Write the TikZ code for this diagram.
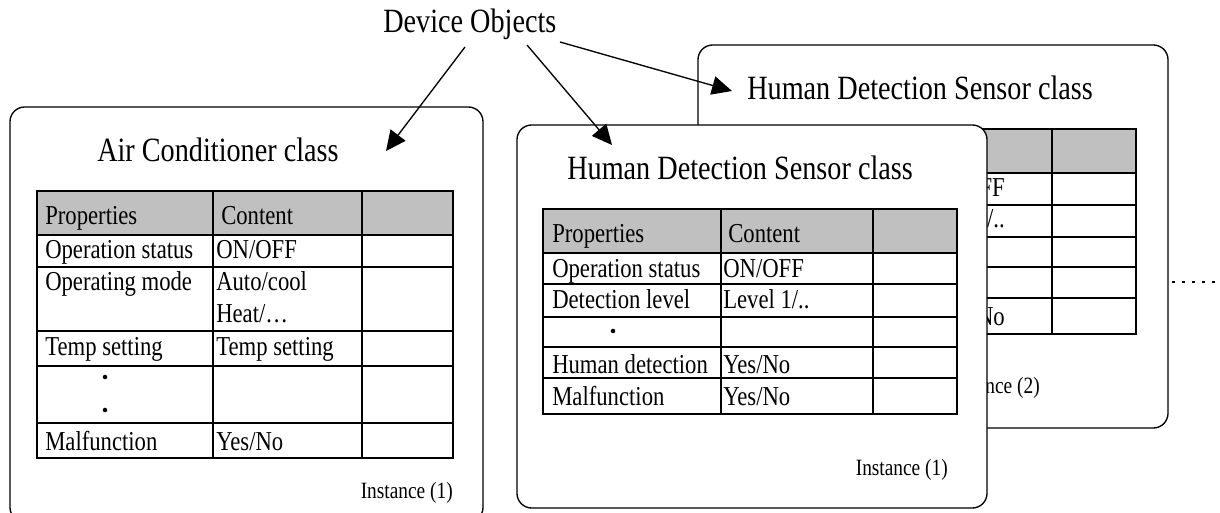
\documentclass[tikz,border=0pt]{standalone}
\usepackage{fontspec}
\setmainfont[FakeStretch=0.83]{Liberation Serif}
\usetikzlibrary{arrows.meta}
\tikzset{
  objbox/.style={draw=black,line width=1pt,rounded corners=11pt,fill=white},
  tabline/.style={draw=black,line width=1pt},
  ttl/.style={font=\fontsize{25.5pt}{29pt}\selectfont,inner sep=0pt,anchor=base west},
  cell/.style={font=\fontsize{20.5pt}{24pt}\selectfont,inner sep=0pt,anchor=base west},
  inst/.style={font=\fontsize{17.5pt}{20pt}\selectfont,inner sep=0pt,anchor=base east},
  ptr/.style={line width=1pt,-{Triangle[length=15pt,width=14pt]}},
  rowdot/.style={circle,fill=black,inner sep=0pt,minimum size=3.4pt}
}
\definecolor{hdrgray}{RGB}{192,192,192}
\begin{document}
\begin{tikzpicture}[x=0.75pt,y=-0.75pt]
\useasboundingbox (0,0) rectangle (1220,513);
\clip (0,0) rectangle (1220,513);

% ---------- back box: Instance (2) ----------
\path[objbox] (698,45) rectangle (1168,428);
\node[ttl] (t3) at (747,100) {Human Detection Sensor class};
\fill[hdrgray] (722,129) rectangle (1136,173);
\draw[tabline] (722,129) rectangle (1136,334);
\foreach \y in {173,205,237,267,298} \draw[tabline] (722,\y) -- (1136,\y);
\draw[tabline] (900,129) -- (900,334);
\draw[tabline] (1052,129) -- (1052,334);
\node[cell,anchor=base east] (b1) at (1005,197) {ON/OFF};
\node[cell,anchor=base east] (b2) at (1005,228) {Level 1/..};
\node[cell,anchor=base east] (b3) at (1005,325) {Yes/No};
\node[inst] (i3) at (1040,393) {Instance (2)};
\draw[line width=2pt,dash pattern=on 2.5pt off 5pt] (1172,282) -- (1215,282);

% ---------- front box: Instance (1) sensor ----------
\path[objbox] (517,125) rectangle (987,508);
\node[ttl] (t2) at (567,180) {Human Detection Sensor class};
\fill[hdrgray] (543,209) rectangle (957,253);
\draw[tabline] (543,209) rectangle (957,414);
\foreach \y in {253,284,317,347,378} \draw[tabline] (543,\y) -- (957,\y);
\draw[tabline] (721,209) -- (721,414);
\draw[tabline] (873,209) -- (873,414);
\node[cell] (p2h) at (552,243) {Properties};
\node[cell] (c2h) at (728,243) {Content};
\node[cell] (p21) at (552,277) {Operation status};
\node[cell] (c21) at (723,277) {ON/OFF};
\node[cell] (p22) at (552,308) {Detection level};
\node[cell] (c22) at (723,308) {Level 1/..};
\node[rowdot] (d21) at (613,331) {};
\node[cell] (p24) at (552,373) {Human detection};
\node[cell] (c24) at (723,373) {Yes/No};
\node[cell] (p25) at (552,405) {Malfunction};
\node[cell] (c25) at (723,405) {Yes/No};
\node[inst] (i2) at (948,475) {Instance (1)};

% ---------- left box: Air Conditioner ----------
\path[objbox] (10,107) rectangle (483,522);
\node[ttl] (t1) at (97,162) {Air Conditioner class};
\fill[hdrgray] (37,191) rectangle (453,235);
\draw[tabline] (37,191) rectangle (453,458);
\foreach \y in {235,267,331,366,423} \draw[tabline] (37,\y) -- (453,\y);
\draw[tabline] (213,191) -- (213,458);
\draw[tabline] (362,191) -- (362,458);
\node[cell] (p1h) at (45,225) {Properties};
\node[cell] (c1h) at (221,225) {Content};
\node[cell] (p11) at (45,258) {Operation status};
\node[cell] (c11) at (216,258) {ON/OFF};
\node[cell] (p12) at (45,291) {Operating mode};
\node[cell] (c12) at (216,291) {Auto/cool};
\node[cell] (c12b) at (216,322) {Heat/…};
\node[cell] (p13) at (45,355) {Temp setting};
\node[cell] (c13) at (216,355) {Temp setting};
\node[rowdot] (d11) at (105,377) {};
\node[rowdot] (d12) at (105,410) {};
\node[cell] (p15) at (45,450) {Malfunction};
\node[cell] (c15) at (216,450) {Yes/No};
\node[inst] (i1) at (453,498) {Instance (1)};

% ---------- Device Objects ----------
\node[ttl] (dev) at (383,33) {Device Objects};
\coordinate (s1) at (465,47);
\coordinate (s2) at (527,45);
\coordinate (s3) at (560,42);
\coordinate (e1) at (386,151);
\coordinate (e2) at (612,145);
\coordinate (e3) at (732,91);
\draw[ptr] (s1) -- (e1);
\draw[ptr] (s2) -- (e2);
\draw[ptr] (s3) -- (e3);
\end{tikzpicture}
\end{document}
